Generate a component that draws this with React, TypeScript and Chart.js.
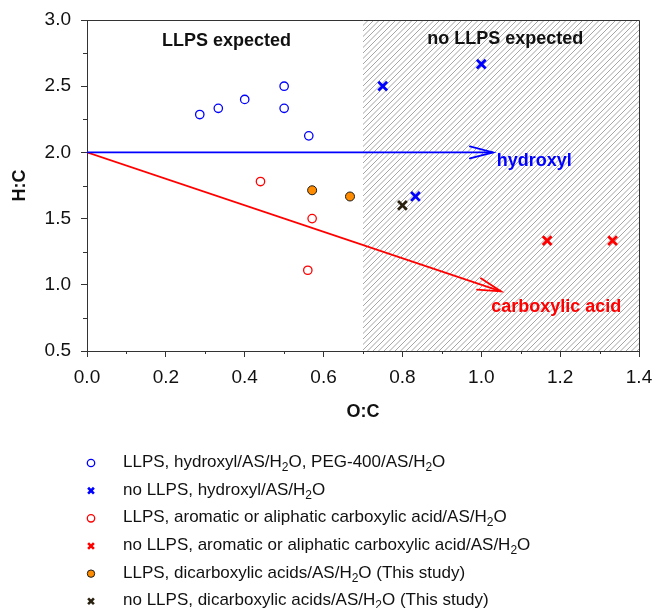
import React, { useEffect, useRef } from 'react';
import { Chart, registerables } from 'chart.js';

Chart.register(...registerables);

const FONT = "Arial, 'Liberation Sans', Helvetica, sans-serif";

// ---- data ----
const llpsHydroxylX = [0.286, 0.333, 0.4, 0.5, 0.5, 0.5625];
const llpsHydroxylY = [2.286, 2.333, 2.4, 2.5, 2.333, 2.125];
const noLlpsHydroxylX = [0.75, 1.0, 0.833];
const noLlpsHydroxylY = [2.5, 2.667, 1.667];
const llpsCarboxX = [0.44, 0.571, 0.56];
const llpsCarboxY = [1.78, 1.5, 1.11];
const noLlpsCarboxX = [1.167, 1.333];
const noLlpsCarboxY = [1.333, 1.333];
const llpsDicarbX = [0.571, 0.667];
const llpsDicarbY = [1.714, 1.667];
const noLlpsDicarbX = [0.8];
const noLlpsDicarbY = [1.6];

const hydroxylArrowX = [0, 1.03];
const hydroxylArrowY = [2, 2];
const carboxArrowX = [0, 1.05];
const carboxArrowY = [2, 0.95];

const seriesLabels = [
  'LLPS, hydroxyl/AS/H₂O, PEG-400/AS/H₂O',
  'no LLPS, hydroxyl/AS/H₂O',
  'LLPS, aromatic or aliphatic carboxylic acid/AS/H₂O',
  'no LLPS, aromatic or aliphatic carboxylic acid/AS/H₂O',
  'LLPS, dicarboxylic acids/AS/H₂O (This study)',
  'no LLPS, dicarboxylic acids/AS/H₂O (This study)',
];

const hatchStartX = 0.7;
const xMin = 0, xMax = 1.4, xStep = 0.2, xMinorStep = 0.1;
const yMin = 0.5, yMax = 3.0, yStep = 0.5, yMinorStep = 0.25;
const xTitle = 'O:C';
const yTitle = 'H:C';

const annotationTexts = ['LLPS expected', 'no LLPS expected', 'hydroxyl', 'carboxylic acid'];
const annotationX = [0.354, 1.061, 1.039, 1.025];
const annotationY = [2.8, 2.816, 1.9, 0.794];
const annotationAlign = ['center', 'center', 'left', 'left'];
const annotationColor = ['#111111', '#111111', '#0000ff', '#ff0000'];

const BLUE = '#0000ff';
const RED = '#ff0000';
const ORANGE = '#ff8c00';
const DARK = '#2a2110';
const AXIS = '#333333';

const zip = (xs: number[], ys: number[]) => xs.map((x, i) => ({ x, y: ys[i] }));

const hatchPlugin = {
  id: 'hatch',
  beforeDatasetsDraw(chart: any) {
    const { ctx, chartArea } = chart;
    const xs = chart.scales.x;
    const left = xs.getPixelForValue(hatchStartX);
    const { top, bottom, right } = chartArea;
    ctx.save();
    ctx.beginPath();
    ctx.rect(left, top, right - left, bottom - top);
    ctx.clip();
    ctx.strokeStyle = '#8e8e8e';
    ctx.lineWidth = 0.8;
    const h = bottom - top;
    ctx.beginPath();
    for (let k = left - h; k < right + 1; k += 5.5) {
      ctx.moveTo(k, bottom);
      ctx.lineTo(k + h, top);
    }
    ctx.stroke();
    ctx.restore();
  },
};

const overlayPlugin = {
  id: 'overlay',
  afterDatasetsDraw(chart: any) {
    const { ctx } = chart;
    const xs = chart.scales.x;
    const ys = chart.scales.y;
    // arrowheads
    chart.data.datasets.forEach((ds: any, i: number) => {
      if (!ds.isArrow) return;
      const pts = chart.getDatasetMeta(i).data;
      const a = pts[pts.length - 2];
      const b = pts[pts.length - 1];
      const ang = Math.atan2(b.y - a.y, b.x - a.x);
      const len = 24;
      const spread = (14.5 * Math.PI) / 180;
      ctx.save();
      ctx.strokeStyle = ds.borderColor;
      ctx.lineWidth = ds.borderWidth;
      ctx.lineCap = 'round';
      ctx.beginPath();
      ctx.moveTo(b.x - len * Math.cos(ang - spread), b.y - len * Math.sin(ang - spread));
      ctx.lineTo(b.x, b.y);
      ctx.lineTo(b.x - len * Math.cos(ang + spread), b.y - len * Math.sin(ang + spread));
      ctx.stroke();
      ctx.restore();
    });
    // text annotations
    ctx.save();
    ctx.font = `bold 18px ${FONT}`;
    ctx.textBaseline = 'alphabetic';
    annotationTexts.forEach((t, i) => {
      ctx.fillStyle = annotationColor[i];
      ctx.textAlign = annotationAlign[i] as CanvasTextAlign;
      ctx.fillText(t, xs.getPixelForValue(annotationX[i]), ys.getPixelForValue(annotationY[i]));
    });
    ctx.restore();
  },
  afterDraw(chart: any) {
    const { ctx, chartArea } = chart;
    const xs = chart.scales.x;
    const ys = chart.scales.y;
    ctx.save();
    ctx.strokeStyle = AXIS;
    ctx.lineWidth = 1;
    // top & right frame
    ctx.beginPath();
    ctx.moveTo(chartArea.left, chartArea.top + 0.5);
    ctx.lineTo(chartArea.right + 0.5, chartArea.top + 0.5);
    ctx.lineTo(chartArea.right + 0.5, chartArea.bottom);
    ctx.stroke();
    // minor ticks
    ctx.beginPath();
    for (let v = xMin + xMinorStep; v < xMax; v += 2 * xMinorStep) {
      const px = Math.round(xs.getPixelForValue(v)) + 0.5;
      ctx.moveTo(px, chartArea.bottom);
      ctx.lineTo(px, chartArea.bottom + 3);
    }
    for (let v = yMin + yMinorStep; v < yMax; v += 2 * yMinorStep) {
      const py = Math.round(ys.getPixelForValue(v)) + 0.5;
      ctx.moveTo(chartArea.left, py);
      ctx.lineTo(chartArea.left - 4, py);
    }
    ctx.stroke();
    ctx.restore();

    // legend
    const items = chart.data.datasets.filter((d: any) => d.inLegend);
    const markerX = 91;
    const textX = 123;
    const firstY = 461;
    const rowH = 27.66;
    items.forEach((ds: any, i: number) => {
      const cy = firstY + i * rowH;
      ctx.save();
      if (ds.pointStyle === 'crossRot') {
        const r = 2.9;
        ctx.strokeStyle = ds.pointBorderColor;
        ctx.lineWidth = 2.6;
        ctx.beginPath();
        ctx.moveTo(markerX - r, cy + 2 - r);
        ctx.lineTo(markerX + r, cy + 2 + r);
        ctx.moveTo(markerX + r, cy + 2 - r);
        ctx.lineTo(markerX - r, cy + 2 + r);
        ctx.stroke();
      } else {
        ctx.beginPath();
        ctx.arc(markerX, cy + 2, 3.7, 0, Math.PI * 2);
        if (ds.pointBackgroundColor && ds.pointBackgroundColor !== 'rgba(0,0,0,0)') {
          ctx.fillStyle = ds.pointBackgroundColor;
          ctx.fill();
        }
        ctx.strokeStyle = ds.pointBorderColor;
        ctx.lineWidth = ds.pointBorderWidth;
        ctx.stroke();
      }
      // label with subscripts
      ctx.fillStyle = '#111111';
      ctx.textBaseline = 'alphabetic';
      ctx.textAlign = 'left';
      const base = cy + 6;
      const parts = String(ds.label).split('₂');
      let x = textX;
      parts.forEach((p: string, j: number) => {
        ctx.font = `17px ${FONT}`;
        ctx.fillText(p, x, base);
        x += ctx.measureText(p).width;
        if (j < parts.length - 1) {
          ctx.font = `12px ${FONT}`;
          ctx.fillText('2', x, base + 4);
          x += ctx.measureText('2').width;
        }
      });
      ctx.restore();
    });
  },
};

export default function App() {
  const ref = useRef<HTMLCanvasElement | null>(null);

  useEffect(() => {
    if (!ref.current) return;
    const circle = (label: string, xs: number[], ys: number[], color: string, fill: string, bw: number, r: number, bc?: string) => ({
      type: 'scatter' as const,
      label,
      data: zip(xs, ys),
      pointStyle: 'circle',
      pointRadius: r,
      pointBorderWidth: bw,
      pointBorderColor: bc || color,
      pointBackgroundColor: fill,
      showLine: false,
      inLegend: true,
    });
    const cross = (label: string, xs: number[], ys: number[], color: string) => ({
      type: 'scatter' as const,
      label,
      data: zip(xs, ys),
      pointStyle: 'crossRot',
      pointRadius: 6.2,
      pointBorderWidth: 2.8,
      pointBorderColor: color,
      pointBackgroundColor: color,
      showLine: false,
      inLegend: true,
    });
    const arrow = (xs: number[], ys: number[], color: string) => ({
      type: 'line' as const,
      label: '',
      data: zip(xs, ys),
      borderColor: color,
      borderWidth: 1.8,
      pointRadius: 0,
      fill: false,
      tension: 0,
      isArrow: true,
    });

    const chart = new Chart(ref.current, {
      type: 'scatter',
      data: {
        datasets: [
          circle(seriesLabels[0], llpsHydroxylX, llpsHydroxylY, BLUE, 'rgba(0,0,0,0)', 1.3, 4.2),
          cross(seriesLabels[1], noLlpsHydroxylX, noLlpsHydroxylY, BLUE),
          circle(seriesLabels[2], llpsCarboxX, llpsCarboxY, RED, 'rgba(0,0,0,0)', 1.3, 4.2),
          cross(seriesLabels[3], noLlpsCarboxX, noLlpsCarboxY, RED),
          circle(seriesLabels[4], llpsDicarbX, llpsDicarbY, ORANGE, ORANGE, 1, 4.5, '#1a1a1a'),
          cross(seriesLabels[5], noLlpsDicarbX, noLlpsDicarbY, DARK),
          arrow(hydroxylArrowX, hydroxylArrowY, BLUE),
          arrow(carboxArrowX, carboxArrowY, RED),
        ] as any,
      },
      options: {
        animation: false,
        responsive: false,
        events: [],
        layout: { padding: { left: 0, right: 17, top: 20, bottom: 177 } },
        plugins: { legend: { display: false }, tooltip: { enabled: false } },
        scales: {
          x: {
            type: 'linear',
            min: xMin,
            max: xMax,
            ticks: {
              stepSize: xStep,
              callback: (v: any) => Number(v).toFixed(1),
              font: { family: FONT, size: 19 },
              color: '#111111',
              padding: 9,
              maxRotation: 0,
              autoSkip: false,
            },
            grid: { drawOnChartArea: false, drawTicks: true, tickLength: 6, tickColor: AXIS, color: AXIS },
            border: { color: AXIS, width: 1 },
            title: { display: true, text: xTitle, font: { family: FONT, size: 18, weight: 'bold' }, color: '#111111', padding: { top: 0, bottom: 8 } },
            afterFit: (s: any) => {
              s.height = 80;
              s.paddingLeft = 0;
              s.paddingRight = 0;
            },
          },
          y: {
            type: 'linear',
            min: yMin,
            max: yMax,
            ticks: {
              stepSize: yStep,
              callback: (v: any) => Number(v).toFixed(1),
              font: { family: FONT, size: 19 },
              color: '#111111',
              padding: 10,
              autoSkip: false,
            },
            grid: { drawOnChartArea: false, drawTicks: true, tickLength: 6, tickColor: AXIS, color: AXIS },
            border: { color: AXIS, width: 1 },
            title: { display: true, text: yTitle, font: { family: FONT, size: 18, weight: 'bold' }, color: '#111111', padding: { top: 9, bottom: 0 } },
            afterFit: (s: any) => {
              s.width = 87;
              s.paddingTop = 0;
              s.paddingBottom = 0;
            },
          },
        },
      } as any,
      plugins: [hatchPlugin, overlayPlugin],
    });
    return () => chart.destroy();
  }, []);

  return (
    <div style={{ position: 'absolute', left: 0, top: 0, width: 656, height: 608, background: '#fff' }}>
      <canvas ref={ref} width={656} height={608} style={{ display: 'block' }} />
    </div>
  );
}
